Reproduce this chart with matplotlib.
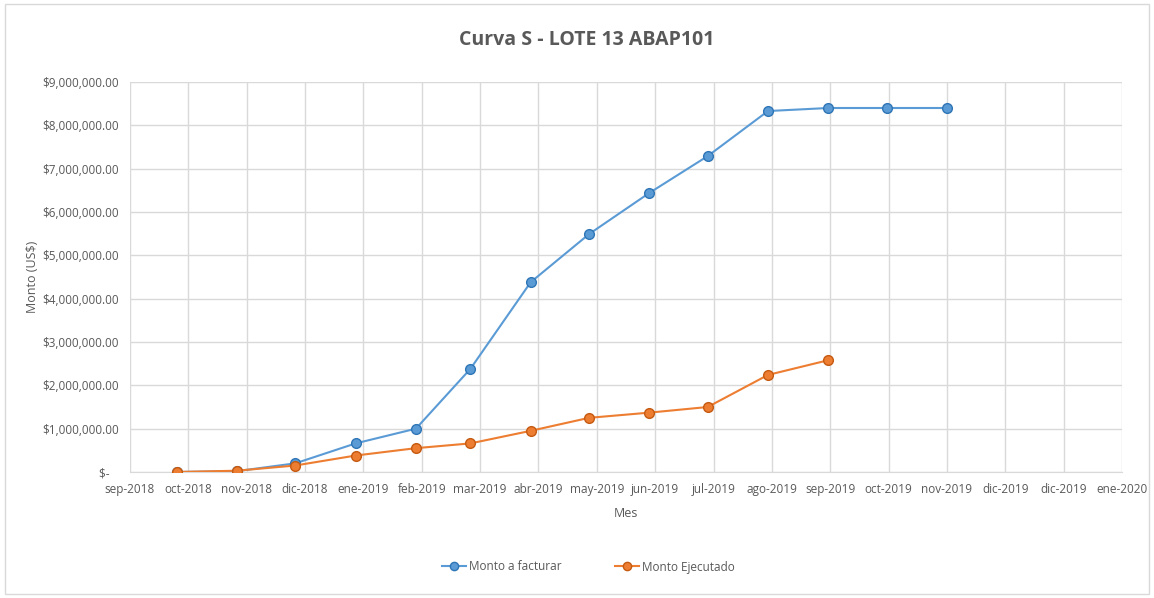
import numpy as np
import matplotlib
matplotlib.use('Agg')
import matplotlib.pyplot as plt
import matplotlib.dates as mdates
from matplotlib.patches import Rectangle
from matplotlib.ticker import FuncFormatter
import datetime as dt

plt.rcParams['font.family'] = ['Open Sans', 'DejaVu Sans']

# ── Data ────────────────────────────────────────────────────
fechas_facturar = ['2018-10-01', '2018-11-01', '2018-12-01', '2019-01-01', '2019-02-01',
                   '2019-03-01', '2019-04-01', '2019-05-01', '2019-06-01', '2019-07-01',
                   '2019-08-01', '2019-09-01', '2019-10-01', '2019-11-01']
monto_facturar = [0.0, 0.02e6, 0.2e6, 0.66e6, 1.0e6, 2.38e6, 4.38e6, 5.49e6,
                  6.44e6, 7.29e6, 8.33e6, 8.40e6, 8.40e6, 8.40e6]

fechas_ejecutado = fechas_facturar[:12]
monto_ejecutado = [0.0, 0.03e6, 0.15e6, 0.38e6, 0.55e6, 0.66e6, 0.95e6, 1.25e6,
                   1.37e6, 1.50e6, 2.24e6, 2.58e6]

meses_es = ['ene', 'feb', 'mar', 'abr', 'may', 'jun', 'jul', 'ago', 'sep', 'oct', 'nov', 'dic']

# date axis with a 30-day major unit (as the original spreadsheet chart)
eje_inicio = dt.date(2018, 9, 7)
n_ticks = 18
paso_dias = 30

BLUE = '#5B9BD5'
ORANGE = '#ED7D31'
GRID = '#D9D9D9'
TXT = '#595959'

fig = plt.figure(figsize=(11.54, 5.98), dpi=100)
ax = fig.add_axes([130 / 1154, 1 - 472 / 598, (1122 - 130) / 1154, (472 - 82) / 598])

xf = mdates.date2num([dt.date.fromisoformat(d) for d in fechas_facturar])
xe = mdates.date2num([dt.date.fromisoformat(d) for d in fechas_ejecutado])

ax.plot(xf, monto_facturar, color=BLUE, lw=1.5, marker='o', ms=7,
        mfc=BLUE, mec='#2E75B6', mew=1.0, label='Monto a facturar', zorder=3)
ax.plot(xe, monto_ejecutado, color=ORANGE, lw=1.5, marker='o', ms=7,
        mfc=ORANGE, mec='#C55A11', mew=1.0, label='Monto Ejecutado', zorder=4)

# x axis
tick_dates = [eje_inicio + dt.timedelta(days=paso_dias * k) for k in range(n_ticks)]
ax.set_xticks(mdates.date2num(tick_dates))
ax.set_xticklabels([f"{meses_es[d.month - 1]}-{d.year}" for d in tick_dates])
ax.set_xlim(mdates.date2num(tick_dates[0]), mdates.date2num(tick_dates[-1]))

# y axis
ax.set_ylim(0, 9e6)
ax.set_yticks(np.arange(0, 9.01e6, 1e6))
ax.yaxis.set_major_formatter(FuncFormatter(lambda v, p: '$-   ' if v == 0 else f'${v:,.2f}'))

ax.grid(True, color=GRID, lw=1.0)
ax.set_axisbelow(True)
for s in ax.spines.values():
    s.set_visible(False)
ax.spines['bottom'].set_visible(True)
ax.spines['bottom'].set_color(GRID)
ax.tick_params(length=0, labelsize=8.5, colors=TXT, pad=8)

ax.set_xlabel('Mes', fontsize=9, color=TXT, labelpad=8)
ax.set_ylabel('Monto (US$)', fontsize=9, color=TXT, labelpad=2)

fig.text(0.508, 1 - 40 / 598, 'Curva S - LOTE 13 ABAP101', ha='center', va='center',
         fontsize=14, fontweight='bold', color=TXT)

fig.legend(loc='center', bbox_to_anchor=(0.51, 1 - 567 / 598), ncol=2, frameon=False,
           fontsize=8.5, labelcolor=TXT, columnspacing=4.5, handlelength=2.0,
           handletextpad=0.3, markerscale=0.85)

# outer chart frame
fig.patches.append(Rectangle((5 / 1154, 4 / 598), 1 - 10 / 1154, 1 - 8 / 598,
                             transform=fig.transFigure, fill=False, ec=GRID, lw=1))

fig.savefig('out.png', dpi=100)
